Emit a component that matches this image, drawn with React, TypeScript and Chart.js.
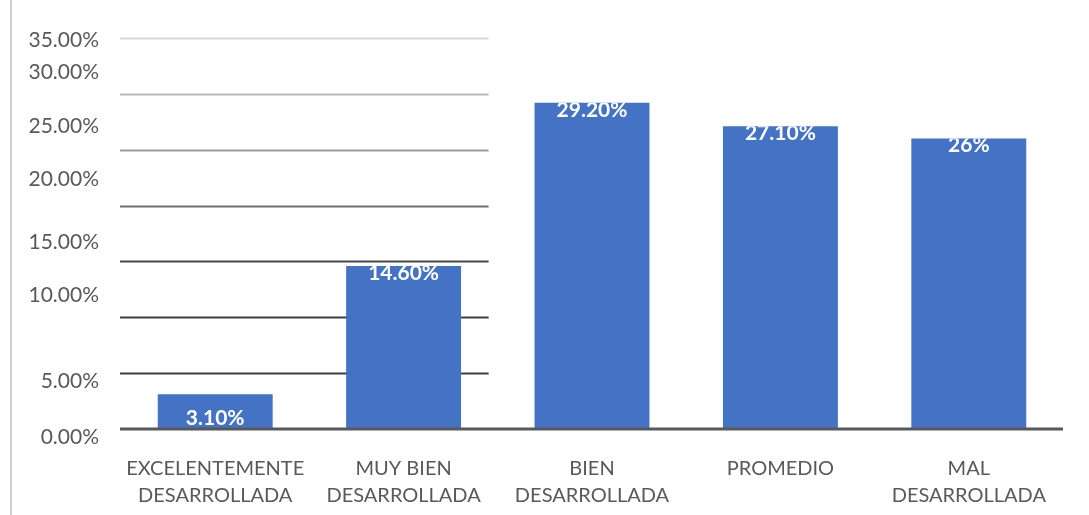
import React, { useEffect, useRef } from "react";
import { Chart, registerables } from "chart.js";

Chart.register(...registerables);

const categories: string[][] = [
  ["EXCELENTEMENTE", "DESARROLLADA"],
  ["MUY BIEN", "DESARROLLADA"],
  ["BIEN", "DESARROLLADA"],
  ["PROMEDIO"],
  ["MAL", "DESARROLLADA"],
];
const values: number[] = [3.1, 14.6, 29.2, 27.1, 26];
const valueLabels: string[] = ["3.10%", "14.60%", "29.20%", "27.10%", "26%"];
const yTickValues: number[] = [0, 5, 10, 15, 20, 25, 30, 35];
const yTickLabels: string[] = ["0.00%", "5.00%", "10.00%", "15.00%", "20.00%", "25.00%", "30.00%", "35.00%"];

// styling (label offsets from their gridline, in px, as in the source picture)
const yLabelOffsets = [8, 8, -22, -19, -26, -23, -22, 2];
const gridColors = ["#595959", "#3f3f3f", "#3f3f3f", "#474747", "#6e6e6e", "#9a9a9a", "#b8b8b8", "#d6d6d6"];
const FONT = "Lato, 'Noto Sans', sans-serif";
const TEXT = "#595959";

const decorPlugin = {
  id: "decor",
  beforeDatasetsDraw(chart: any) {
    const ctx = chart.ctx;
    const y = chart.scales.y;
    const x = chart.scales.x;
    const area = chart.chartArea;
    ctx.save();
    // left vertical rule
    ctx.strokeStyle = "#d0d0d0";
    ctx.lineWidth = 2;
    ctx.beginPath();
    ctx.moveTo(11, 0);
    ctx.lineTo(11, chart.height);
    ctx.stroke();
    // partial gridlines
    const gxEnd = x.getPixelForValue(1) + 85;
    yTickValues.forEach((v, i) => {
      if (v === 0) return;
      const py = Math.round(y.getPixelForValue(v)) + 0.5;
      ctx.strokeStyle = gridColors[i];
      ctx.lineWidth = 2;
      ctx.beginPath();
      ctx.moveTo(area.left - 1, py);
      ctx.lineTo(gxEnd, py);
      ctx.stroke();
    });
    // y tick labels
    ctx.fillStyle = TEXT;
    ctx.font = `21px ${FONT}`;
    ctx.textAlign = "right";
    ctx.textBaseline = "middle";
    yTickValues.forEach((v, i) => {
      const py = y.getPixelForValue(v) + yLabelOffsets[i];
      ctx.fillText(yTickLabels[i], 99, py);
    });
    ctx.restore();
  },
  afterDatasetsDraw(chart: any) {
    const ctx = chart.ctx;
    const y = chart.scales.y;
    const area = chart.chartArea;
    ctx.save();
    // value labels, clipped to their bar like the source
    const meta = chart.getDatasetMeta(0);
    ctx.font = `bold 21px ${FONT}`;
    ctx.textAlign = "center";
    ctx.textBaseline = "middle";
    meta.data.forEach((bar: any, i: number) => {
      const top = bar.y;
      const base = bar.base;
      const ly = base - top < 50 ? (top + base) / 2 + 7 : top + 7;
      ctx.save();
      ctx.beginPath();
      ctx.rect(bar.x - bar.width / 2, top, bar.width, base - top);
      ctx.clip();
      ctx.fillStyle = "#ffffff";
      ctx.fillText(valueLabels[i], bar.x, ly);
      ctx.restore();
    });
    // baseline
    const by = y.getPixelForValue(0);
    ctx.strokeStyle = "#595959";
    ctx.lineWidth = 3;
    ctx.beginPath();
    ctx.moveTo(area.left - 1, by);
    ctx.lineTo(area.right, by);
    ctx.stroke();
    ctx.restore();
  },
};

export default function App() {
  const ref = useRef<HTMLCanvasElement | null>(null);
  useEffect(() => {
    document.body.style.margin = "0";
    if (!ref.current) return;
    const chart = new Chart(ref.current, {
      type: "bar",
      data: {
        labels: categories,
        datasets: [
          {
            data: values,
            backgroundColor: "#4472C4",
            borderWidth: 0,
            barPercentage: 0.61,
            categoryPercentage: 1,
          },
        ],
      },
      options: {
        animation: false,
        responsive: false,
        maintainAspectRatio: false,
        layout: { padding: { left: 121, right: 26, top: 38, bottom: 8 } },
        plugins: { legend: { display: false }, tooltip: { enabled: false } },
        scales: {
          x: {
            grid: { display: false, drawTicks: false },
            border: { display: false },
            ticks: {
              color: TEXT,
              font: { family: FONT, size: 20, lineHeight: 1.35 },
              padding: 26,
              maxRotation: 0,
              autoSkip: false,
            },
            afterFit(scale: any) {
              scale.height = 78;
            },
          },
          y: {
            display: false,
            min: 0,
            max: 35,
          },
        },
      },
      plugins: [decorPlugin],
    });
    return () => chart.destroy();
  }, []);
  return (
    <div style={{ width: 1089, height: 515, background: "#fff" }}>
      <canvas ref={ref} width={1089} height={515} />
    </div>
  );
}
